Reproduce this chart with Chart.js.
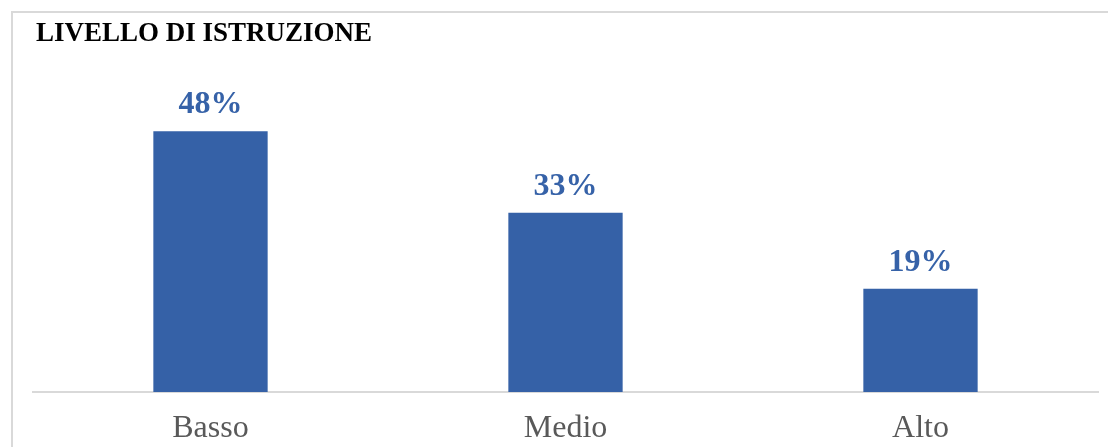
<!DOCTYPE html>
<html>
<head>
<meta charset="utf-8">
<script src="https://cdn.jsdelivr.net/npm/chart.js@4"></script>
<style>
html,body{margin:0;padding:0;background:#fff;overflow:hidden;}
#wrap{position:relative;width:1108px;height:447px;}
canvas{display:block;}
</style>
</head>
<body>
<div id="wrap"><canvas id="c" width="1108" height="447"></canvas></div>
<script>
const titleText = 'LIVELLO DI ISTRUZIONE';
const categories = ['Basso', 'Medio', 'Alto'];
const values = [48, 33, 19];
const valueLabels = ['48%', '33%', '19%'];

const barColor = '#3561A7';
const labelColor = '#3662A8';

const frame = {
  id: 'frame',
  afterLayout(chart) {
    if (chart.titleBlock) { chart.titleBlock.left = 36; }
  },
  beforeDraw(chart) {
    const ctx = chart.ctx;
    ctx.save();
    ctx.fillStyle = '#ffffff';
    ctx.fillRect(0, 0, chart.width, chart.height);
    ctx.strokeStyle = '#d9d9d9';
    ctx.lineWidth = 2;
    ctx.beginPath();
    ctx.moveTo(12, chart.height);
    ctx.lineTo(12, 12);
    ctx.lineTo(chart.width, 12);
    ctx.stroke();
    ctx.restore();
  }
};

const valueLabelPlugin = {
  id: 'valueLabels',
  afterDatasetsDraw(chart) {
    const ctx = chart.ctx;
    const meta = chart.getDatasetMeta(0);
    ctx.save();
    ctx.font = 'bold 32px "Liberation Serif", "Times New Roman", serif';
    ctx.fillStyle = labelColor;
    ctx.textAlign = 'center';
    ctx.textBaseline = 'alphabetic';
    meta.data.forEach((bar, i) => {
      ctx.fillText(valueLabels[i], bar.x, bar.y - 18);
    });
    ctx.restore();
  }
};

new Chart(document.getElementById('c'), {
  type: 'bar',
  data: {
    labels: categories,
    datasets: [{
      data: values,
      backgroundColor: barColor,
      borderWidth: 0,
      categoryPercentage: 1.0,
      barPercentage: 0.322
    }]
  },
  options: {
    responsive: false,
    animation: false,
    layout: { padding: { left: 33, right: 10, top: 0, bottom: 2.5 } },
    plugins: {
      legend: { display: false },
      tooltip: { enabled: false },
      title: {
        display: true,
        text: titleText,
        align: 'start',
        color: '#000000',
        font: { family: '"Liberation Serif", "Times New Roman", serif', size: 27, weight: 'bold', lineHeight: 1.2 },
        padding: { top: 18, bottom: 15.6 }
      }
    },
    scales: {
      x: {
        grid: { display: false, drawTicks: false },
        border: { display: true, color: '#d9d9d9', width: 2 },
        ticks: {
          color: '#595959',
          padding: 20.5,
          font: { family: '"Liberation Serif", "Times New Roman", serif', size: 32, lineHeight: 1 }
        },
        afterFit(scale) { scale.height = 52.5; }
      },
      y: {
        display: false,
        min: 0,
        max: 60
      }
    }
  },
  plugins: [frame, valueLabelPlugin]
});
</script>
</body>
</html>
